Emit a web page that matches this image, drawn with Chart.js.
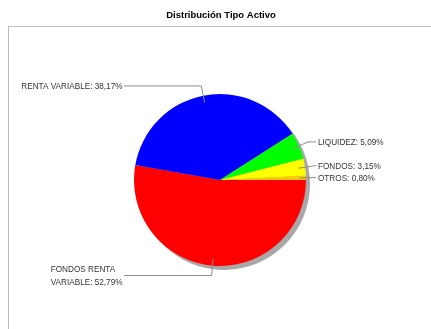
<!DOCTYPE html>
<html>
<head>
<meta charset="utf-8">
<script src="https://cdn.jsdelivr.net/npm/chart.js@4/dist/chart.umd.min.js"></script>
<style>
    html, body { margin: 0; padding: 0; background: #fff; }
    canvas { display: block; }
</style>
</head>
<body>
<canvas id="pieChart" width="431" height="329"></canvas>
<script>
// Chart data (clockwise from 3 o'clock)
const categories = ['FONDOS RENTA VARIABLE', 'RENTA VARIABLE', 'LIQUIDEZ', 'FONDOS', 'OTROS'];
const shares = [52.79, 38.17, 5.09, 3.15, 0.80];
const sliceColors = ['#FF0000', '#0000FF', '#00FF00', '#FFFF00', '#FFC800'];
const chartTitle = 'Distribución Tipo Activo';

const FONT = '"Liberation Sans", Arial, sans-serif';

function formatLabel(i) {
    return `${categories[i]}: ${shares[i].toFixed(2).replace('.', ',')}%`;
}

// split a label into lines no wider than maxWidth
function wrapText(ctx, text, maxWidth) {
    const words = text.split(' ');
    const lines = [];
    let line = '';
    words.forEach(w => {
        const test = line ? line + ' ' + w : w;
        if (ctx.measureText(test).width > maxWidth && line) {
            lines.push(line);
            line = w;
        } else {
            line = test;
        }
    });
    if (line) lines.push(line);
    return lines;
}

// Frame, title and drop shadow behind the pie
const framePlugin = {
    id: 'frame',
    beforeDraw(chart) {
        const ctx = chart.ctx;
        ctx.save();
        ctx.fillStyle = '#fff';
        ctx.fillRect(0, 0, chart.width, chart.height);
        ctx.strokeStyle = '#bdbdbd';
        ctx.lineWidth = 1;
        ctx.strokeRect(8.5, 26.5, chart.width, chart.height);
        ctx.fillStyle = '#000';
        ctx.font = `bold 9.5px ${FONT}`;
        ctx.textAlign = 'center';
        ctx.textBaseline = 'middle';
        ctx.fillText(chartTitle, 221, 15);
        ctx.restore();
    },
    beforeDatasetsDraw(chart) {
        const arc = chart.getDatasetMeta(0).data[0];
        if (!arc) return;
        const ctx = chart.ctx;
        ctx.save();
        ctx.fillStyle = '#a8a8a8';
        ctx.beginPath();
        ctx.arc(arc.x + 4, arc.y + 4, arc.outerRadius, 0, Math.PI * 2);
        ctx.fill();
        ctx.restore();
    }
};

// Leader lines and labels, JFreeChart style
const labelPlugin = {
    id: 'pieLabels',
    afterDatasetsDraw(chart) {
        const ctx = chart.ctx;
        const arcs = chart.getDatasetMeta(0).data;
        ctx.save();
        ctx.font = `8.2px ${FONT}`;
        ctx.textBaseline = 'middle';
        ctx.strokeStyle = '#8c8c8c';
        ctx.lineWidth = 1;
        arcs.forEach((arc, i) => {
            const mid = (arc.startAngle + arc.endAngle) / 2;
            const r = arc.outerRadius;
            const cos = Math.cos(mid), sin = Math.sin(mid);
            const ax = arc.x + cos * r * 0.92, ay = arc.y + sin * r * 0.92;
            const ex = arc.x + cos * r * 1.115, ey = arc.y + sin * r * 1.115;
            const right = cos >= 0;
            const lineEnd = right ? 316 : 124;

            ctx.beginPath();
            ctx.moveTo(ax, ay);
            ctx.lineTo(ex, ey);
            ctx.lineTo(lineEnd, ey);
            ctx.stroke();

            const lines = wrapText(ctx, formatLabel(i), 105);
            const lineH = 12.6;
            const widest = Math.max(...lines.map(l => ctx.measureText(l).width));
            const tx = right ? 318 : 122.5 - widest;
            ctx.fillStyle = '#333';
            ctx.textAlign = 'left';
            lines.forEach((l, k) => {
                const y = ey + (k - (lines.length - 1) / 2) * lineH + 1;
                ctx.fillText(l, tx, y);
            });
        });
        ctx.restore();
    }
};

new Chart(document.getElementById('pieChart'), {
    type: 'pie',
    data: {
        labels: categories,
        datasets: [{
            data: shares,
            backgroundColor: sliceColors,
            borderWidth: 0
        }]
    },
    options: {
        responsive: false,
        animation: false,
        rotation: 90,
        layout: {
            padding: { left: 134, right: 125, top: 94, bottom: 63 }
        },
        plugins: {
            legend: { display: false },
            tooltip: { enabled: false }
        }
    },
    plugins: [framePlugin, labelPlugin]
});
</script>
</body>
</html>
